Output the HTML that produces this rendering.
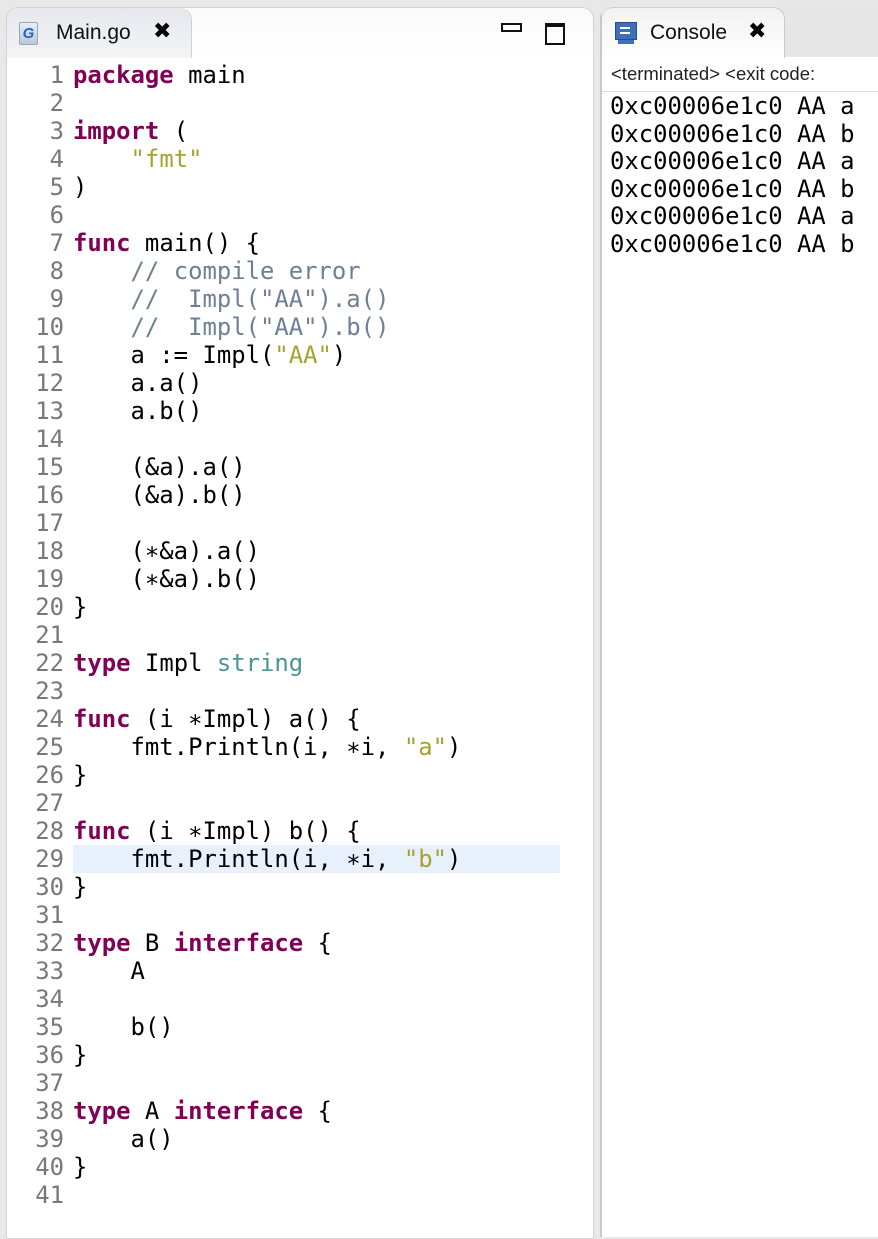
<!DOCTYPE html>
<html><head><meta charset="utf-8">
<style>
body{margin:0;width:878px;height:1210px;background:#e8e8e8;position:relative;overflow:hidden;font-family:"Liberation Sans",sans-serif}
.abs{position:absolute}
#ed{left:6px;top:7px;width:586px;height:1230px;background:#fff;border:1px solid #d4d4d4;border-radius:12px 12px 0 0}
#edhead{left:0;top:0;width:586px;height:50px;background:linear-gradient(#fafafa,#fff);border-radius:12px 12px 0 0}
#edtab{left:0;top:0;width:184px;height:50px;background:linear-gradient(#e6e8ee,#f4f4f6);border-radius:12px 12px 0 0;border-right:1px solid #d0d0d0}
#con{left:600px;top:7px;width:290px;height:1230px;background:#fff;border-left:2px solid #c8c8c8;border-radius:12px 0 0 0}
#conhead{left:0;top:0;width:290px;height:50px;background:#e6e6e6}
#contab{left:0;top:0;width:182px;height:50px;background:linear-gradient(#f2f2f4,#fff);border-radius:12px 12px 0 0;border-right:1px solid #c8c8c8;border-top:1px solid #d0d0d0}
.code{font-family:"DejaVu Sans Mono","Liberation Mono",monospace;font-size:23.9px;line-height:28px;white-space:pre;color:#000}
.ln{color:#787878;text-align:right;width:60px;left:4px}
.k{color:#7f0055;font-weight:bold}
.s{color:#a6a32c}
.c{color:#6f8096}
.t{color:#4a9696}
.x{font-family:"DejaVu Sans",sans-serif;font-size:22px;color:#000}
</style></head><body>
<div id="ed" class="abs">
 <div id="edhead" class="abs"></div>
 <div id="edtab" class="abs">
  <div class="abs" style="left:12px;top:14px;width:17px;height:21px;background:linear-gradient(#e8eef8,#b9c8dc);border:1px solid #9aa;border-radius:2px;color:#2a62c8;font:bold italic 15px 'Liberation Sans';text-align:center;line-height:21px">G</div>
  <div class="abs" style="left:49px;top:13px;font-size:21px;color:#111">Main.go</div>
  <div class="abs x" style="left:146px;top:11px">&#x2716;&#xFE0E;</div>
 </div>
 <div class="abs" style="left:494px;top:15px;width:17px;height:5px;border:2px solid #111"></div>
 <div class="abs" style="left:538px;top:15px;width:16px;height:16px;border:2px solid #111;border-top-width:4px"></div>
</div>
<div id="con" class="abs">
 <div id="conhead" class="abs"></div>
 <div id="contab" class="abs">
  <div class="abs" style="left:13px;top:14px;width:20px;height:16px;background:#3f6fb8;border:1px solid #24508f"><div class="abs" style="left:4px;top:4px;width:10px;height:2px;background:#fff"></div><div class="abs" style="left:4px;top:9px;width:10px;height:2px;background:#fff"></div></div>
  <div class="abs" style="left:16px;top:32px;width:16px;height:4px;background:#3f6fb8"></div>
  <div class="abs" style="left:48px;top:13px;font-size:21px;color:#111">Console</div>
  <div class="abs x" style="left:146px;top:11px">&#x2716;&#xFE0E;</div>
 </div>
 <div class="abs" style="left:9px;top:56px;font-size:18.5px;color:#222">&lt;terminated&gt; &lt;exit code:</div>
 <div class="abs" style="left:0;top:84px;width:290px;height:1px;background:#ddd"></div>
 <div class="abs code" style="left:8px;top:86px;line-height:27.5px">0xc00006e1c0 AA a
0xc00006e1c0 AA b
0xc00006e1c0 AA a
0xc00006e1c0 AA b
0xc00006e1c0 AA a
0xc00006e1c0 AA b</div>
</div>
<div class="abs" style="left:73px;top:845px;width:487px;height:28px;background:#e8f0fb"></div>
<div class="abs code ln" style="top:61px">1
2
3
4
5
6
7
8
9
10
11
12
13
14
15
16
17
18
19
20
21
22
23
24
25
26
27
28
29
30
31
32
33
34
35
36
37
38
39
40
41</div>
<div class="abs code" style="left:73px;top:61px"><span class="k">package</span> main

<span class="k">import</span> (
    <span class="s">"fmt"</span>
)

<span class="k">func</span> main() {
    <span class="c">// compile error</span>
    <span class="c">//  Impl("AA").a()</span>
    <span class="c">//  Impl("AA").b()</span>
    a := Impl(<span class="s">"AA"</span>)
    a.a()
    a.b()

    (&amp;a).a()
    (&amp;a).b()

    (∗&amp;a).a()
    (∗&amp;a).b()
}

<span class="k">type</span> Impl <span class="t">string</span>

<span class="k">func</span> (i ∗Impl) a() {
    fmt.Println(i, ∗i, <span class="s">"a"</span>)
}

<span class="k">func</span> (i ∗Impl) b() {
    fmt.Println(i, ∗i, <span class="s">"b"</span>)
}

<span class="k">type</span> B <span class="k">interface</span> {
    A

    b()
}

<span class="k">type</span> A <span class="k">interface</span> {
    a()
}
</div>
</body></html>
